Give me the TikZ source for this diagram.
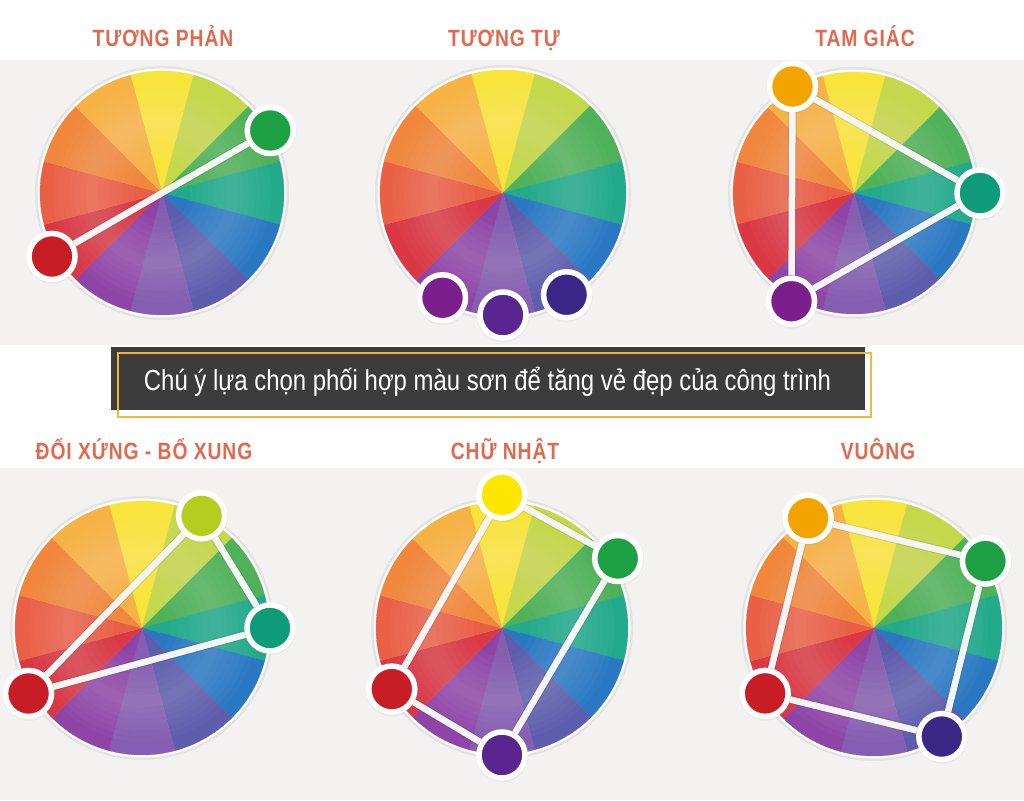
\documentclass[tikz,border=0pt]{standalone}
\usepackage{fontspec}
\setmainfont{Liberation Sans}
\newfontfamily\headfont{Liberation Sans}[FakeStretch=0.82,LetterSpace=4.0]
\newfontfamily\notefont{Liberation Sans}[FakeStretch=0.825]
\usetikzlibrary{calc,shadows}

% wheel sectors
\definecolor{sYel}{HTML}{F8E43A}
\definecolor{sLim}{HTML}{C3D84A}
\definecolor{sGrn}{HTML}{4FB25A}
\definecolor{sTea}{HTML}{22AA8B}
\definecolor{sBlu}{HTML}{2B78C2}
\definecolor{sInd}{HTML}{5E5DAD}
\definecolor{sVio}{HTML}{855DB1}
\definecolor{sPur}{HTML}{8F45A6}
\definecolor{sRed}{HTML}{DA3844}
\definecolor{sRor}{HTML}{EA6047}
\definecolor{sOra}{HTML}{F0873C}
\definecolor{sYor}{HTML}{F6B245}
% knobs
\definecolor{kGrn}{HTML}{1EA145}
\definecolor{kTea}{HTML}{0E9B7A}
\definecolor{kRed}{HTML}{C91D26}
\definecolor{kOra}{HTML}{F4A400}
\definecolor{kPur}{HTML}{7B1F8C}
\definecolor{kVio}{HTML}{5B2590}
\definecolor{kInd}{HTML}{3B2886}
\definecolor{kYel}{HTML}{FFE600}
\definecolor{kLim}{HTML}{B4CE1F}
% page
\definecolor{titlered}{HTML}{E2684E}
\definecolor{panelgray}{HTML}{F4F2F0}
\definecolor{notegray}{HTML}{3D3C3C}
\definecolor{noteline}{HTML}{EFB83A}

\tikzset{
  headline/.style={font=\headfont\bfseries\fontsize{23.5}{26}\selectfont, text=titlered, anchor=base, inner sep=0pt},
  knob/.style={circle, inner sep=0pt, minimum size=46pt, draw=white, line width=5.5pt,
    circular drop shadow={shadow xshift=0pt, shadow yshift=-1pt, opacity=.2, shadow scale=1.15}},
  link/.style={draw=white!96!black, line width=6.5pt, preaction={draw=black, draw opacity=.09, line width=8.5pt}},
}

\newcommand{\colorwheel}[2]{%
  \fill[black, opacity=.06] (#1) circle ({#2+5});
  \fill[white] (#1) circle ({#2+2.5});
  \foreach \ang/\col in {90/sYel,60/sLim,30/sGrn,0/sTea,-30/sBlu,-60/sInd,-90/sVio,-120/sPur,-150/sRed,180/sRor,150/sOra,120/sYor}
    \filldraw[\col, line width=.3pt] (#1) -- ++(\ang-15:#2) arc[start angle=\ang-15, delta angle=30, radius=#2] -- cycle;
  % soft glow
  \foreach \k in {1,...,7}
    \fill[white, opacity=.025, even odd rule] (#1) circle ({(0.58+0.045*\k)*#2}) circle ({(0.58-0.05*\k)*#2});
}

\begin{document}
\begin{tikzpicture}[x=1pt, y=1pt]
  \useasboundingbox (0,0) rectangle (1024,800);
  \fill[white] (0,0) rectangle (1024,800);

  % gray bands
  \fill[panelgray] (0,455) rectangle (1024,740);
  \fill[panelgray] (0,0) rectangle (1024,332);

  % titles
  \node[headline] (tTuongPhan) at (163,753) {TƯƠNG PHẢN};
  \node[headline] (tTuongTu) at (504,753) {TƯƠNG TỰ};
  \node[headline] (tTamGiac) at (865,753) {TAM GIÁC};
  \node[headline] (tDoiXung) at (144,340) {ĐỐI XỨNG - BỔ XUNG};
  \node[headline] (tChuNhat) at (505,340) {CHỮ NHẬT};
  \node[headline] (tVuong) at (878,340) {VUÔNG};

  % wheel centres
  \coordinate (c1) at (162,607);
  \coordinate (c2) at (503,607);
  \coordinate (c3) at (854,607);
  \coordinate (c4) at (142,172);
  \coordinate (c5) at (502,172);
  \coordinate (c6) at (874,172);

  % Tuong phan
  \colorwheel{c1}{122}
  \node[knob, fill=kGrn] (tpGreen) at ($(c1)+(30:125)$) {};
  \node[knob, fill=kRed] (tpRed) at ($(c1)+(210:127)$) {};
  \draw[link] (tpRed) -- (tpGreen);

  % Tuong tu
  \colorwheel{c2}{123}
  \node[knob, fill=kPur] (ttPurple) at ($(c2)+(240:121)$) {};
  \node[knob, fill=kInd] (ttIndigo) at ($(c2)+(302:120)$) {};
  \node[knob, fill=kVio] (ttViolet) at ($(c2)+(270:122)$) {};

  % Tam giac
  \colorwheel{c3}{121}
  \node[knob, fill=kOra] (tgOrange) at ($(c3)+(120:123)$) {};
  \node[knob, fill=kTea] (tgTeal) at ($(c3)+(0:126)$) {};
  \node[knob, fill=kPur] (tgPurple) at ($(c3)+(240:125)$) {};
  \draw[link] (tgOrange) -- (tgTeal);
  \draw[link] (tgTeal) -- (tgPurple);
  \draw[link] (tgPurple) -- (tgOrange);

  % banner
  \fill[notegray] (111,390) rectangle (865,453);
  \draw[noteline, line width=1.6pt] (118,383) rectangle (871,447);
  \node[anchor=base, inner sep=0pt, text=white, font=\notefont\fontsize{29}{32}\selectfont] (note) at (487.5,409)
    {Chú ý lựa chọn phối hợp màu sơn để tăng vẻ đẹp của công trình};

  % Doi xung - bo xung
  \colorwheel{c4}{127}
  \node[knob, fill=kLim] (dxLime) at ($(c4)+(62:127)$) {};
  \node[knob, fill=kTea] (dxTeal) at ($(c4)+(0:128)$) {};
  \node[knob, fill=kRed] (dxRed) at ($(c4)+(210:131)$) {};
  \draw[link] (dxRed) -- (dxLime);
  \draw[link] (dxRed) -- (dxTeal);
  \draw[link] (dxLime) -- (dxTeal);

  % Chu nhat
  \colorwheel{c5}{126}
  \node[knob, fill=kYel] (cnYellow) at ($(c5)+(90:133)$) {};
  \node[knob, fill=kGrn] (cnGreen) at ($(c5)+(31:135)$) {};
  \node[knob, fill=kRed] (cnRed) at ($(c5)+(209:126)$) {};
  \node[knob, fill=kVio] (cnViolet) at ($(c5)+(270:127)$) {};
  \draw[link] (cnYellow) -- (cnGreen);
  \draw[link] (cnGreen) -- (cnViolet);
  \draw[link] (cnViolet) -- (cnRed);
  \draw[link] (cnRed) -- (cnYellow);

  % Vuong
  \colorwheel{c6}{128}
  \node[knob, fill=kOra] (vgOrange) at ($(c6)+(121:128)$) {};
  \node[knob, fill=kGrn] (vgGreen) at ($(c6)+(31:130)$) {};
  \node[knob, fill=kInd] (vgIndigo) at ($(c6)+(302:128)$) {};
  \node[knob, fill=kRed] (vgRed) at ($(c6)+(211:127)$) {};
  \draw[link] (vgOrange) -- (vgGreen);
  \draw[link] (vgGreen) -- (vgIndigo);
  \draw[link] (vgIndigo) -- (vgRed);
  \draw[link] (vgRed) -- (vgOrange);
\end{tikzpicture}
\end{document}
